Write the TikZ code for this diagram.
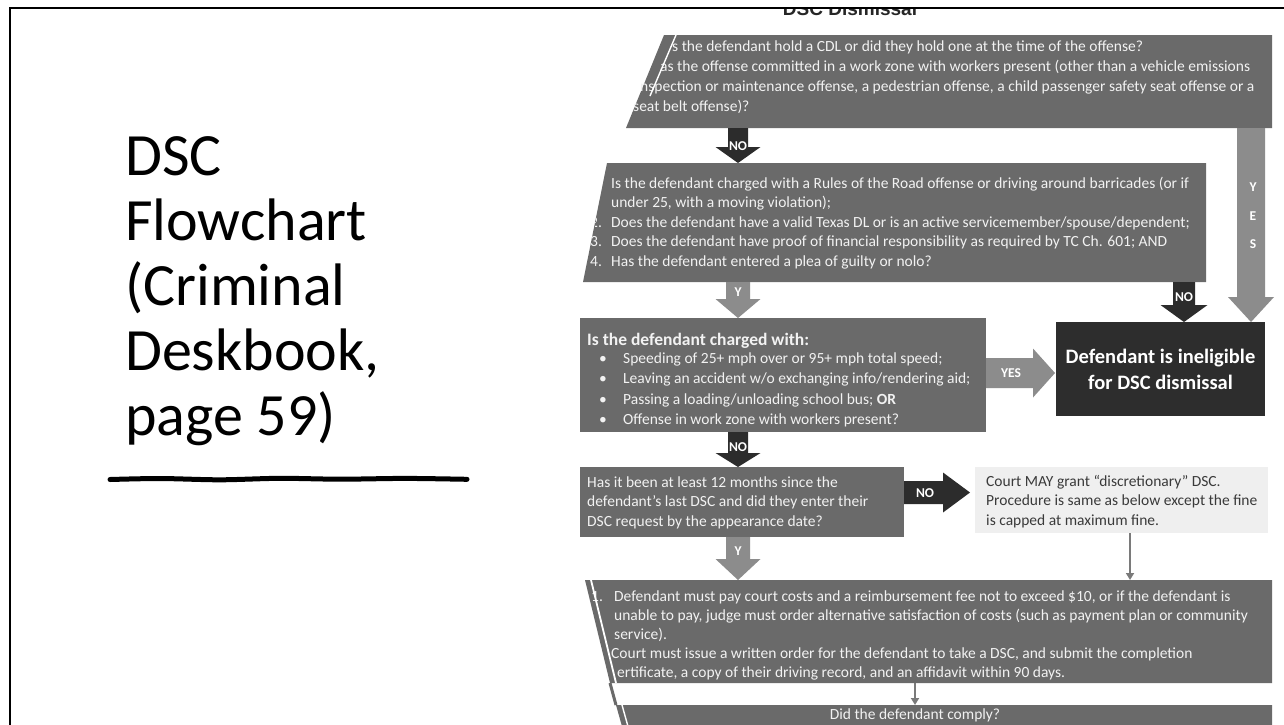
\documentclass[tikz,border=0pt]{standalone}
\usepackage{fontspec}
\setmainfont{Carlito}
\newfontfamily\arialfont{Liberation Sans}
\usetikzlibrary{calc,arrows.meta}
\definecolor{boxgray}{HTML}{6A6A6A}
\definecolor{darkarrow}{HTML}{2C2C2C}
\definecolor{lightarrow}{HTML}{8C8C8C}
\definecolor{inelig}{HTML}{2D2D2D}
\definecolor{lightbox}{HTML}{EFEFEF}
\definecolor{boxtext}{HTML}{F2F2F2}
\definecolor{courttext}{HTML}{3A3A3A}
\definecolor{thinarrow}{HTML}{7A7A7A}
% fat block arrows between named coordinates
\newcommand{\fatdown}[6]{%
  \fill[#6] let \p1=(#1), \p2=(#2) in
    (\x1-#3pt,\y1) -- (\x1+#3pt,\y1) -- (\x1+#3pt,\y2+#5pt) -- (\x1+#4pt,\y2+#5pt)
    -- (\x1,\y2) -- (\x1-#4pt,\y2+#5pt) -- (\x1-#3pt,\y2+#5pt) -- cycle;}
\newcommand{\fatright}[6]{%
  \fill[#6] let \p1=(#1), \p2=(#2) in
    (\x1,\y1+#3pt) -- (\x2-#5pt,\y1+#3pt) -- (\x2-#5pt,\y1+#4pt) -- (\x2,\y1)
    -- (\x2-#5pt,\y1-#4pt) -- (\x2-#5pt,\y1-#3pt) -- (\x1,\y1-#3pt) -- cycle;}
\begin{document}
\begin{tikzpicture}[x=1pt,y=-1pt,
  txt/.style={font=\fontsize{15.5}{19.5}\selectfont, text=boxtext, inner sep=0pt, anchor=base west},
  dtxt/.style={txt, text=courttext},
  lbl/.style={font=\bfseries\fontsize{13.5}{13.5}\selectfont, text=white, inner sep=0pt},
  thinarr/.style={draw=thinarrow, line width=1.8pt, -{Triangle[length=7pt,width=8pt]}},
  titletxt/.style={font=\fontsize{60}{65}\selectfont, inner sep=0pt, anchor=base west}
]
\useasboundingbox (0,0) rectangle (1284,724);
\fill[white] (0,0) rectangle (1284,724);

% ---------- left title ----------
\node[titletxt] (t1) at (125,175) {DSC};
\node[titletxt] (t2) at (125,240) {Flowchart};
\node[titletxt] (t3) at (125,305) {(Criminal};
\node[titletxt] (t4) at (125,370) {Deskbook,};
\node[titletxt] (t5) at (125,435) {page 59)};
\draw[line width=5pt, line cap=round, line join=round]
  plot[smooth] coordinates {(110,479.5) (160,478.5) (220,479.8) (280,478.3) (340,479.2) (405,478.4) (467,479.3)};

% ---------- cut-off flowchart title ----------
\begin{scope}
  \clip (0,9) rectangle (1284,40);
  \node[font=\arialfont\bfseries\fontsize{19}{19}\selectfont, text=black!85, inner sep=0pt, anchor=base] (dt) at (850,15) {DSC Dismissal};
\end{scope}

% ---------- box 1 ----------
\fill[boxgray] (664,35) -- (1272,35) -- (1272,128) -- (626,128) -- cycle;
\node[txt] (q1a) at (672,51) {s the defendant hold a CDL or did they hold one at the time of the offense?};
\node[txt] (q1b) at (660,71) {as the offense committed in a work zone with workers present (other than a vehicle emissions};
\node[txt] (q1c) at (640,91) {nspection or maintenance offense, a pedestrian offense, a child passenger safety seat offense or a};
\node[txt] (q1d) at (633,111) {seat belt offense)?};
\draw[white, line width=1.4pt] (676,35) -- (650,96);

% ---------- box 2 ----------
\fill[boxgray] (607,163) -- (1206,163) -- (1206,282) -- (583,282) -- cycle;
\node[txt] (q2a) at (611,188) {Is the defendant charged with a Rules of the Road offense or driving around barricades (or if};
\node[txt] (q2b) at (611,207.5) {under 25, with a moving violation);};
\node[txt] (q2c) at (611,227) {Does the defendant have a valid Texas DL or is an active servicemember/spouse/dependent;};
\node[txt] (q2d) at (611,246.5) {Does the defendant have proof of financial responsibility as required by TC Ch. 601; AND};
\node[txt] (q2e) at (611,266) {Has the defendant entered a plea of guilty or nolo?};
\begin{scope}
  \clip (607,163) -- (1206,163) -- (1206,282) -- (583,282) -- cycle;
  \node[txt] (n2) at (590,227) {2.};
  \node[txt] (n3) at (590,246.5) {3.};
  \node[txt] (n4) at (590,266) {4.};
\end{scope}

% ---------- box 3 ----------
\fill[boxgray] (580,318) rectangle (986,432);
\node[txt, font=\bfseries\fontsize{17.5}{19}\selectfont] (q3t) at (587,345) {Is the defendant charged with:};
\foreach \yy/\tx [count=\i] in {363/{Speeding of 25+ mph over or 95+ mph total speed;},
  383.5/{Leaving an accident w/o exchanging info/rendering aid;},
  404/{Passing a loading/unloading school bus; \textbf{OR}},
  424.5/{Offense in work zone with workers present?}}{
  \node[txt] (b\i) at (599,\yy) {•};
  \node[txt] (q3\i) at (623,\yy) {\tx};
}

% ---------- ineligible ----------
\node[fill=inelig, minimum width=209pt, minimum height=94pt, inner sep=0pt, align=center,
  text=white, font=\bfseries\fontsize{20.5}{26}\selectfont] (inel) at (1160.5,369) {Defendant is ineligible\\for DSC dismissal};

% ---------- box 4 ----------
\fill[boxgray] (580,467) rectangle (904,537);
\node[txt] (q4a) at (587,487) {Has it been at least 12 months since the};
\node[txt] (q4b) at (587,506.5) {defendant’s last DSC and did they enter their};
\node[txt] (q4c) at (587,526) {DSC request by the appearance date?};

% ---------- discretionary box ----------
\fill[lightbox] (975,467) rectangle (1268,533);
\node[dtxt] (c1) at (986,486) {Court MAY grant “discretionary” DSC.};
\node[dtxt] (c2) at (986,505.5) {Procedure is same as below except the fine};
\node[dtxt] (c3) at (986,525) {is capped at maximum fine.};

% ---------- box 5 ----------
\fill[boxgray] (585,580) -- (1272,580) -- (1272,683) -- (610,683) -- cycle;
\node[txt] (n51) at (591,601) {1.};
\node[txt] (q5a) at (614,601) {Defendant must pay court costs and a reimbursement fee not to exceed \$10, or if the defendant is};
\node[txt] (q5b) at (614,620) {unable to pay, judge must order alternative satisfaction of costs (such as payment plan or community};
\node[txt] (q5c) at (614,639) {service).};
\node[txt] (q5d) at (611,658) {Court must issue a written order for the defendant to take a DSC, and submit the completion};
\node[txt] (q5e) at (617,677) {ertificate, a copy of their driving record, and an affidavit within 90 days.};
\draw[white, line width=1.8pt] (591,580) -- (616,683);

% ---------- box 6 (cut off) ----------
\draw[boxgray, line width=3pt] (610,683) -- (616,705);
\fill[boxgray] (616,705) -- (1272,705) -- (1272,730) -- (623,730) -- cycle;
\node[txt, anchor=base] (q6) at (915,719.5) {Did the defendant comply?};
\draw[white, line width=1.4pt] (622,705) -- (629,730);

% ---------- connectors ----------
\coordinate (a1s) at (738,128); \coordinate (a1e) at (738,163);
\fatdown{a1s}{a1e}{10}{22.5}{16}{darkarrow}
\node[lbl] (a1l) at (738,146) {NO};

\coordinate (a2s) at (1251,128); \coordinate (a2e) at (1251,322);
\fatdown{a2s}{a2e}{14}{23}{25}{lightarrow}
\node[lbl] (y1) at (1253,187) {Y};
\node[lbl] (y2) at (1253,216) {E};
\node[lbl] (y3) at (1253,244) {S};

\coordinate (a3s) at (738,282); \coordinate (a3e) at (738,318);
\fatdown{a3s}{a3e}{12}{22.5}{19}{lightarrow}
\node[lbl] (a3l) at (738,292) {Y};

\coordinate (a4s) at (1184,282); \coordinate (a4e) at (1184,322);
\fatdown{a4s}{a4e}{11}{23.5}{17}{darkarrow}
\node[lbl] (a4l) at (1184,297) {NO};

\coordinate (a5s) at (986,373); \coordinate (a5e) at (1055,373);
\fatright{a5s}{a5e}{15}{24.5}{22}{lightarrow}
\node[lbl] (a5l) at (1011,373) {YES};

\coordinate (a6s) at (738,432); \coordinate (a6e) at (738,467);
\fatdown{a6s}{a6e}{10}{22.5}{14}{darkarrow}
\node[lbl] (a6l) at (738,447) {NO};

\coordinate (a7s) at (904,492.5); \coordinate (a7e) at (970,492.5);
\fatright{a7s}{a7e}{11.5}{20}{27}{darkarrow}
\node[lbl] (a7l) at (925,493) {NO};

\coordinate (a8s) at (738,537); \coordinate (a8e) at (738,580);
\fatdown{a8s}{a8e}{12}{22.5}{21}{lightarrow}
\node[lbl] (a8l) at (738,551) {Y};

\coordinate (c9s) at (1130,533); \coordinate (c9e) at (1130,580);
\draw[thinarr] (c9s) -- (c9e);
\coordinate (c10s) at (915,683); \coordinate (c10e) at (915,705);
\draw[thinarr] (c10s) -- (c10e);

% ---------- slide frame ----------
\draw[line width=2.5pt, line cap=rect] (10,724) -- (10,8) -- (1284,8);
\end{tikzpicture}
\end{document}
